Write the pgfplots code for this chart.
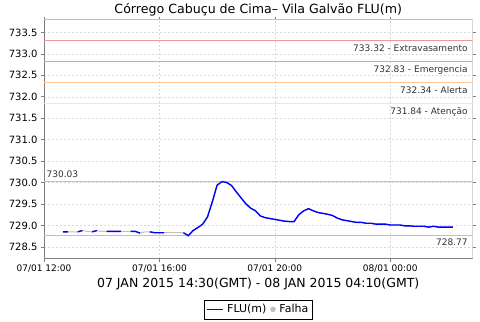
\documentclass[border=0pt]{standalone}
\usepackage{pgfplots}
\pgfplotsset{compat=1.18}
\usepackage{pgfplotstable}
\usepackage{fontspec}
\setmainfont{DejaVu Sans}
\definecolor{extcol}{HTML}{E89A9A}
\definecolor{emecol}{HTML}{FF80FF}
\definecolor{alecol}{HTML}{FFC896}
\definecolor{atecol}{HTML}{FFEE80}
\definecolor{refgray}{HTML}{C0C0C0}
\definecolor{gridgray}{HTML}{D8D8D8}
\definecolor{txt}{HTML}{333333}
\pgfplotstableread{
h y b
0.667 728.85 728.85
0.833 728.85 728.85
1.000 728.85 nan
1.167 728.85 728.85
1.333 728.88 728.88
1.500 728.86 nan
1.667 728.85 728.85
1.833 728.88 728.88
2.000 728.86 nan
2.167 728.86 728.86
2.333 728.86 728.86
2.500 728.86 728.86
2.667 728.86 728.86
2.833 728.86 nan
3.000 728.86 728.86
3.167 728.86 728.86
3.333 728.82 728.82
3.500 728.85 nan
3.667 728.85 728.85
3.833 728.83 728.83
4.000 728.83 728.83
4.167 728.83 728.83
4.333 728.83 nan
4.500 728.83 nan
4.667 728.83 nan
4.833 728.83 728.83
5.000 728.76 728.76
5.167 728.88 728.88
5.333 728.95 728.95
5.500 729.03 729.03
5.667 729.20 729.20
5.833 729.55 729.55
6.000 729.94 729.94
6.167 730.02 730.02
6.333 730.00 730.00
6.500 729.93 729.93
6.667 729.78 729.78
6.833 729.64 729.64
7.000 729.50 729.50
7.167 729.40 729.40
7.333 729.34 729.34
7.500 729.22 729.22
7.667 729.18 729.18
7.833 729.16 729.16
8.000 729.14 729.14
8.167 729.12 729.12
8.333 729.10 729.10
8.500 729.09 729.09
8.667 729.09 729.09
8.833 729.25 729.25
9.000 729.34 729.34
9.167 729.39 729.39
9.333 729.34 729.34
9.500 729.30 729.30
9.667 729.28 729.28
9.833 729.26 729.26
10.000 729.23 729.23
10.167 729.17 729.17
10.333 729.13 729.13
10.500 729.11 729.11
10.667 729.09 729.09
10.833 729.07 729.07
11.000 729.07 729.07
11.167 729.05 729.05
11.333 729.05 729.05
11.500 729.03 729.03
11.667 729.03 729.03
11.833 729.03 729.03
12.000 729.01 729.01
12.167 729.01 729.01
12.333 729.01 729.01
12.500 728.99 728.99
12.667 728.99 728.99
12.833 728.98 728.98
13.000 728.98 728.98
13.167 728.98 728.98
13.333 728.96 728.96
13.500 728.98 728.98
13.667 728.96 728.96
13.833 728.96 728.96
14.000 728.96 728.96
14.167 728.96 728.96
}\flu
\begin{document}
\begin{tikzpicture}
\begin{axis}[
  scale only axis,
  width=428.5pt, height=239pt,
  xmin=0, xmax=14.85,
  ymin=728.227, ymax=733.80,
  unbounded coords=jump,
  xtick={0,4,8,12},
  xticklabels={07/01 12:00,07/01 16:00,07/01 20:00,08/01 00:00},
  ytick={728.5,729,729.5,730,730.5,731,731.5,732,732.5,733,733.5},
  /pgf/number format/assume math mode=true,
  yticklabel style={/pgf/number format/.cd,fixed,fixed zerofill,precision=1,1000 sep={}},
  ticklabel style={font=\fontsize{10}{12}\selectfont, text=black},
  xticklabel style={font=\fontsize{9}{11}\selectfont},
  tick align=outside,
  major tick length=3pt,
  tick style={color=gray, line width=0.6pt},
  axis line style={draw=none},
  grid=major,
  major grid style={gridgray, dash pattern=on 2pt off 2pt, line width=0.5pt},
  xlabel={07 JAN 2015 14:30(GMT) - 08 JAN 2015 04:10(GMT)},
  xlabel style={font=\fontsize{12.5}{14}\selectfont, yshift=1pt},
  title={Córrego Cabuçu de Cima– Vila Galvão FLU(m)},
  title style={font=\fontsize{12.6}{14}\selectfont, yshift=-6pt},
  legend style={at={(0.5,-0.172)}, anchor=north, legend columns=2,
    font=\fontsize{11}{13}\selectfont, draw=black,
    inner xsep=2pt, inner ysep=2.5pt, column sep=2pt},
  legend cell align=left,
  clip=true,
]
% plot frame
\draw[color=refgray, line width=0.8pt] (rel axis cs:0,0) rectangle (rel axis cs:1,1);
\draw[color=gray, line width=0.8pt] (rel axis cs:0,1) -- (rel axis cs:0,0) -- (rel axis cs:1,0);
% reference lines
\addplot[extcol, line width=1pt, forget plot] coordinates {(0,733.32) (14.85,733.32)};
\addplot[emecol, line width=1pt, forget plot] coordinates {(0,732.83) (14.85,732.83)};
\addplot[alecol, line width=1pt, forget plot] coordinates {(0,732.34) (14.85,732.34)};
\addplot[atecol, line width=1pt, forget plot] coordinates {(0,731.84) (14.85,731.84)};
\addplot[refgray, line width=1pt, forget plot] coordinates {(0,730.03) (14.85,730.03)};
\addplot[refgray, line width=1pt, forget plot] coordinates {(0,728.77) (14.85,728.77)};
\node[anchor=north east, font=\fontsize{9}{10}\selectfont, text=txt, inner sep=1pt] at (axis cs:14.72,733.25) {733.32 - Extravasamento};
\node[anchor=north east, font=\fontsize{9}{10}\selectfont, text=txt, inner sep=1pt] at (axis cs:14.72,732.76) {732.83 - Emergencia};
\node[anchor=north east, font=\fontsize{9}{10}\selectfont, text=txt, inner sep=1pt] at (axis cs:14.72,732.27) {732.34 - Alerta};
\node[anchor=north east, font=\fontsize{9}{10}\selectfont, text=txt, inner sep=1pt] at (axis cs:14.72,731.77) {731.84 - Atenção};
\node[anchor=south west, font=\fontsize{9}{10}\selectfont, text=txt, inner sep=1pt] at (axis cs:0.05,730.08) {730.03};
\node[anchor=north east, font=\fontsize{9}{10}\selectfont, text=txt, inner sep=1pt] at (axis cs:14.72,728.72) {728.77};
% failure (gray) line
\addplot[color=refgray, line width=1pt, forget plot] table[x=h, y=y] {\flu};
% data
\addplot[color=blue, line width=1.4pt,
  legend image code/.code={\draw[blue, line width=1.4pt] (0cm,0cm) -- (0.55cm,0cm);}] table[x=h, y=b] {\flu};
\addlegendentry{FLU(m)}
\addlegendimage{only marks, mark=*, mark size=2.5pt, color=refgray}
\addlegendentry{Falha}
\end{axis}
\path (current axis.south west) ++(-44pt,-63pt) coordinate (bbsw);
\path (current axis.north east) ++(7.5pt,18pt) coordinate (bbne);
\path[use as bounding box] (bbsw) rectangle (bbne);
\end{tikzpicture}
\end{document}
